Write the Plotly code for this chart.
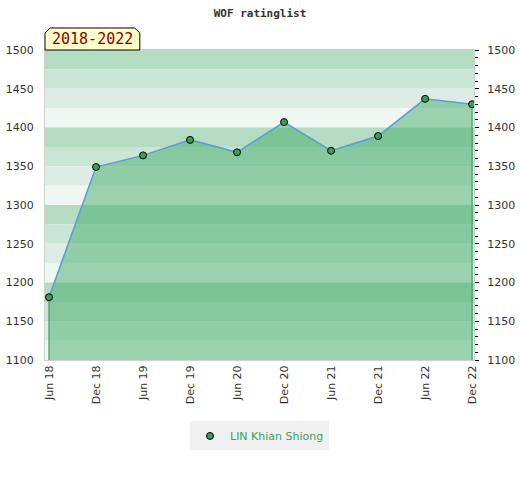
import plotly.graph_objects as go

# WOF rating history, every half year
periods = ["Jun 18", "Dec 18", "Jun 19", "Dec 19", "Jun 20",
           "Dec 20", "Jun 21", "Dec 21", "Jun 22", "Dec 22"]
ratings = [1181, 1349, 1364, 1384, 1368, 1407, 1370, 1389, 1437, 1430]
player = "LIN Khian Shiong"
span_label = "2018-2022"
y_min, y_max = 1100, 1500
y_ticks = [1100, 1150, 1200, 1250, 1300, 1350, 1400, 1450, 1500]

band_colors = ["#b3dcc3", "#c9e6d4", "#dceee3", "#eef7f1"]

fig = go.Figure()

# area under the rating line
fig.add_trace(go.Scatter(x=periods, y=ratings, mode="lines", fill="tozeroy",
                         fillcolor="rgba(62,170,101,0.48)", line=dict(width=0),
                         showlegend=False, hoverinfo="skip"))
# edges of the area
for i in (0, len(periods) - 1):
    fig.add_trace(go.Scatter(x=[periods[i], periods[i]], y=[y_min, ratings[i]], mode="lines",
                             line=dict(color="#2e8b57", width=1), showlegend=False,
                             hoverinfo="skip"))
fig.add_trace(go.Scatter(x=periods, y=ratings, mode="lines",
                         line=dict(color="#5b9bd5", width=1.5), showlegend=False))
fig.add_trace(go.Scatter(x=periods, y=ratings, mode="markers", name=player,
                         marker=dict(size=7, color="#3a9d5d", line=dict(color="black", width=1))))
# invisible trace to carry the right axis
fig.add_trace(go.Scatter(x=periods, y=ratings, yaxis="y2", mode="markers",
                         marker=dict(opacity=0), showlegend=False, hoverinfo="skip"))

# striped background, 4 bands per 100 points
shapes = []
top = y_max
k = 0
while top > y_min:
    shapes.append(dict(type="rect", xref="paper", yref="y", x0=0, x1=1, y0=top - 25, y1=top,
                       fillcolor=band_colors[k % 4], line=dict(width=0), layer="below"))
    top -= 25
    k += 1
# label box with cut corners
shapes.append(dict(type="path", xref="paper", yref="paper",
                   path="M 0 1 L 0 1.055 L 0.012 1.071 L 0.209 1.071 L 0.221 1.055 L 0.221 1 Z",
                   fillcolor="#ffffcc", line=dict(color="black", width=1)))

fig.update_layout(
    width=520, height=480,
    margin=dict(l=45, r=46, t=50, b=120),
    paper_bgcolor="white", plot_bgcolor="white",
    font=dict(family="DejaVu Sans", size=11, color="#333333"),
    title=dict(text="<b>WOF ratinglist</b>", x=0.5, xanchor="center", y=0.973, yanchor="middle",
               font=dict(family="DejaVu Sans Mono", size=11, color="#333333")),
    shapes=shapes,
    annotations=[dict(text=span_label, xref="paper", yref="paper", x=0.11, y=1.035,
                      showarrow=False, xanchor="center", yanchor="middle",
                      font=dict(family="DejaVu Sans Mono", size=15, color="#8b0000"))],
    xaxis=dict(type="category", range=[-0.085, 9.04], tickangle=-90, showgrid=False,
               showline=True, linecolor="#d0d0d0", mirror=True, ticks="", ticklen=0,
               automargin=False, tickfont=dict(size=11, color="#333333")),
    yaxis=dict(range=[y_min, y_max], tickvals=y_ticks, showgrid=False, zeroline=False,
               showline=True, linecolor="#d0d0d0", ticks="", automargin=False,
               ticklabelstandoff=8, tickfont=dict(size=11, color="#333333")),
    yaxis2=dict(range=[y_min, y_max], tickvals=y_ticks, overlaying="y", side="right",
                showgrid=False, zeroline=False, showline=True, linecolor="#d0d0d0",
                ticks="outside", ticklen=4, tickcolor="black", automargin=False,
                ticklabelstandoff=6,
                minor=dict(dtick=10, ticks="outside", ticklen=3, tickcolor="black"),
                tickfont=dict(size=11, color="#333333")),
    legend=dict(orientation="h", x=0.5, xanchor="center", y=-0.245, yanchor="middle",
                bgcolor="#f0f0f0", font=dict(size=11, color="#3aa060")),
)

fig.write_html("out.html", config={"displayModeBar": False},
               post_script="document.body.style.margin = '0';")
